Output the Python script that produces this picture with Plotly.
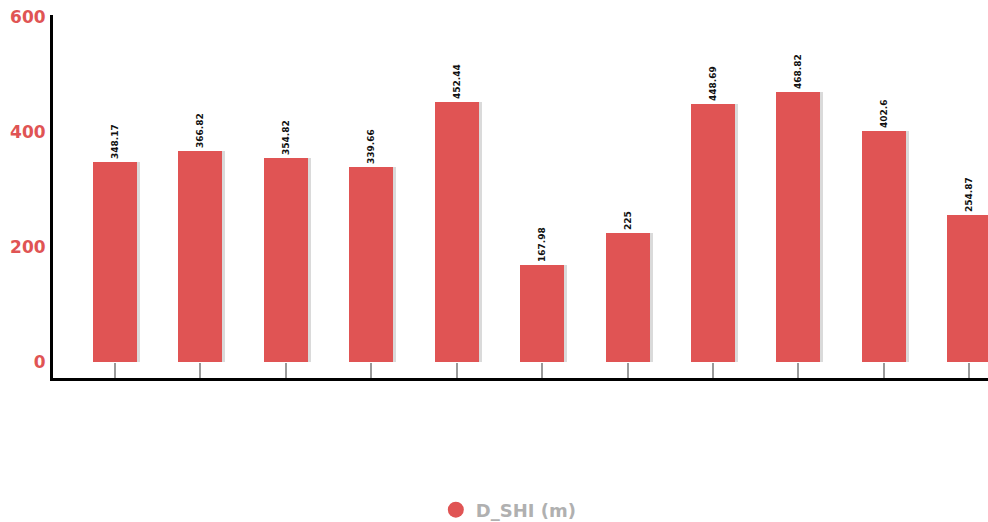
import plotly.graph_objects as go

categories = [f"c{i}" for i in range(1, 12)]
values = [348.17, 366.82, 354.82, 339.66, 452.44, 167.98, 225, 448.69, 468.82, 402.6, 254.87]
labels = ["348.17", "366.82", "354.82", "339.66", "452.44", "167.98", "225", "448.69", "468.82", "402.6", "254.87"]
series_name = "D_SHI (m)"
y_ticks = [0, 200, 400, 600]

RED = "#E05454"
BW = 0.515

fig = go.Figure()
# soft shadow behind bars
fig.add_trace(go.Bar(
    x=list(range(len(values))), y=values, width=BW, offset=-BW / 2 + 0.035,
    marker=dict(color="#dadada", line=dict(width=0)),
    showlegend=False, hoverinfo="skip",
))
fig.add_trace(go.Bar(
    x=list(range(len(values))), y=values, width=BW, offset=-BW / 2,
    marker=dict(color=RED, line=dict(width=0)),
    text=labels, textposition="outside", textangle=-90,
    textfont=dict(family="DejaVu Sans", size=9, color="#111111", weight="bold"),
    cliponaxis=False, showlegend=False, name=series_name,
))
# legend entry with circle marker
fig.add_trace(go.Scatter(
    x=[None], y=[None], mode="markers", name=series_name,
    marker=dict(symbol="circle", size=18, color=RED),
))

fig.update_layout(
    width=988, height=522,
    margin=dict(l=53, r=0, t=15, b=144),
    paper_bgcolor="white", plot_bgcolor="white",
    barmode="overlay", bargap=0,
    showlegend=True,
    legend=dict(
        orientation="h", xref="container", yref="container",
        x=0.515, y=0.023, xanchor="center", yanchor="middle",
        font=dict(family="DejaVu Sans", size=18, color="#b0b0b0", weight="bold"),
        itemsizing="trace", itemwidth=30,
    ),
    xaxis=dict(
        range=[-0.726, 10.22], tickvals=list(range(len(values))),
        ticktext=[""] * len(values),
        showgrid=False, zeroline=False,
        showline=True, linecolor="black", linewidth=3,
        ticks="inside", ticklen=15, tickwidth=1.5, tickcolor="#9a9a9a",
        fixedrange=True,
    ),
    yaxis=dict(
        range=[-27.8, 603.5], tickvals=y_ticks,
        showgrid=False, zeroline=False,
        showline=True, linecolor="black", linewidth=3,
        ticks="", ticklabelstandoff=1,
        tickfont=dict(family="DejaVu Sans", size=17, color=RED, weight="bold"),
    ),
)

fig.write_html("out.html")
